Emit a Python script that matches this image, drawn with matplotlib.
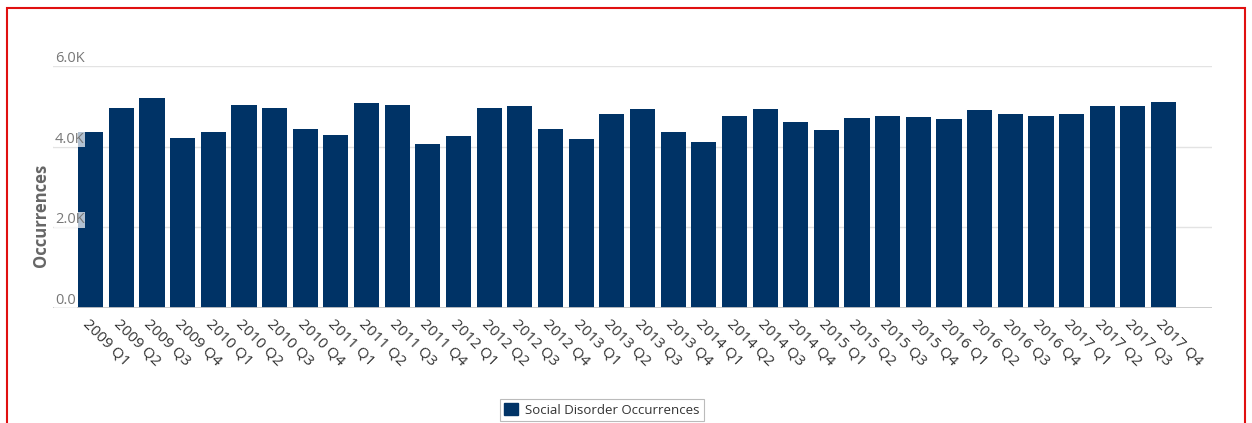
import matplotlib.pyplot as plt
from matplotlib.patches import Rectangle, Patch
from matplotlib.ticker import FixedLocator

plt.rcParams["font.family"] = ["Open Sans", "DejaVu Sans"]

QUARTERS = [f"{y} Q{q}" for y in range(2009, 2018) for q in range(1, 5)]
OCCURRENCES = [
    4350, 4950, 5190, 4200, 4350, 5030, 4960, 4440,
    4280, 5080, 5040, 4060, 4250, 4960, 5000, 4430,
    4190, 4800, 4920, 4350, 4120, 4750, 4930, 4600,
    4420, 4700, 4760, 4730, 4670, 4910, 4800, 4760,
    4800, 5000, 5000, 5110,
]
Y_TICKS = [0, 2000, 4000, 6000]
Y_TICK_LABELS = ["0.0", "2.0K", "4.0K", "6.0K"]

BAR_COLOR = "#003366"
W, H = 1252, 423

fig = plt.figure(figsize=(W / 100, H / 100), dpi=100)
ax = fig.add_axes([53 / W, (H - 308.3) / H, (1212 - 53) / W, (308.3 - 65.7) / H])

x = list(range(len(QUARTERS)))
ax.bar(x, OCCURRENCES, width=0.82, color=BAR_COLOR, zorder=2)

ax.set_xlim(-1.23, 36.58)
ax.set_ylim(0, 6000)

# gridlines
for t in Y_TICKS[1:]:
    ax.axhline(t, color="#e3e3e3", lw=1, zorder=1)
ax.axhline(0, color="#c8c8c8", lw=2, zorder=3)

# y labels sit on top of the gridlines, inside the plot
ax.set_yticks([])
for t, lab in zip(Y_TICKS, Y_TICK_LABELS):
    ax.annotate(lab, xy=(0, t), xycoords=("axes fraction", "data"),
                xytext=(1.5, 0), textcoords="offset points",
                ha="left", va="bottom", fontsize=10.5, color="#777777", zorder=4,
                bbox=dict(boxstyle="square,pad=0.05", fc="white", ec="none", alpha=0.7))

ax.xaxis.set_major_locator(FixedLocator(x))
ax.set_xticklabels(QUARTERS, rotation=-45, ha="left", va="top",
                   rotation_mode="anchor", fontsize=11, color="#333333")
ax.tick_params(axis="x", length=0, pad=6)

for s in ax.spines.values():
    s.set_visible(False)

fig.text(41 / W, (H - 215) / H, "Occurrences", rotation=90, ha="center", va="center",
         fontsize=12, fontweight="bold", color="#666666")

handle = Patch(facecolor=BAR_COLOR, edgecolor=BAR_COLOR)
leg = fig.legend([handle], ["Social Disorder Occurrences"], loc="center",
                 bbox_to_anchor=(602 / W, (H - 410) / H), fontsize=9.5,
                 frameon=True, fancybox=False, handlelength=1.05, handleheight=1.05,
                 handletextpad=0.55, borderpad=0.35, labelcolor="#333333")
leg.get_frame().set_edgecolor("#aaaaaa")
leg.get_frame().set_linewidth(0.8)

# red frame around the panel
fig.add_artist(Rectangle((7 / W, -0.05), (1245 - 7) / W, (H - 8) / H + 0.05,
                         transform=fig.transFigure, fill=False, ec="#e01010", lw=1.5))

fig.savefig("out.png", dpi=100)
